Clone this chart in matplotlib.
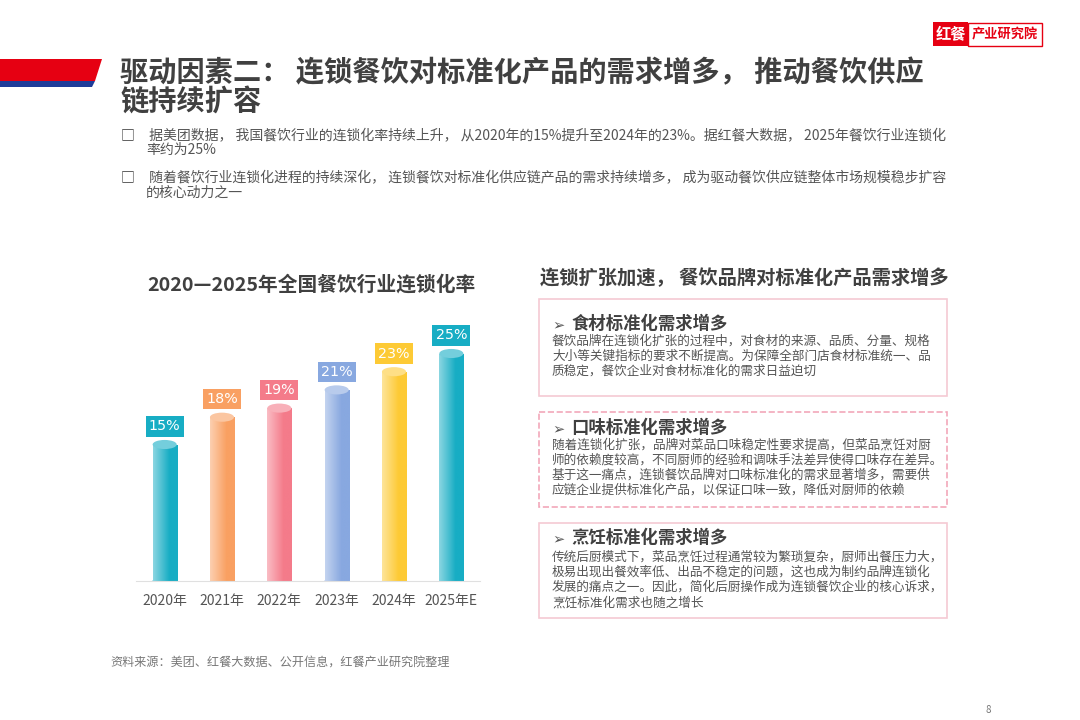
import numpy as np
import matplotlib.pyplot as plt
from matplotlib.patches import Rectangle, Polygon, Ellipse
from matplotlib.colors import to_rgb

plt.rcParams['font.family'] = ['Noto Sans CJK SC', 'DejaVu Sans']

# 数据
years = ["2020年", "2021年", "2022年", "2023年", "2024年", "2025年E"]
rates = [15, 18, 19, 21, 23, 25]
bar_colors = ["#17adc4", "#f9a062", "#f47b8a", "#88a8e0", "#fdca35", "#17adc4"]

title = "驱动因素二： 连锁餐饮对标准化产品的需求增多， 推动餐饮供应\n链持续扩容"
bullets = [
    " 据美团数据， 我国餐饮行业的连锁化率持续上升， 从2020年的15%提升至2024年的23%。据红餐大数据， 2025年餐饮行业连锁化\n率约为25%",
    " 随着餐饮行业连锁化进程的持续深化， 连锁餐饮对标准化供应链产品的需求持续增多， 成为驱动餐饮供应链整体市场规模稳步扩容\n的核心动力之一",
]
chart_title = "2020—2025年全国餐饮行业连锁化率"
right_title = "连锁扩张加速， 餐饮品牌对标准化产品需求增多"
box_titles = ["食材标准化需求增多", "口味标准化需求增多", "烹饪标准化需求增多"]
box_texts = [
    ["餐饮品牌在连锁化扩张的过程中，对食材的来源、品质、分量、规格",
     "大小等关键指标的要求不断提高。为保障全部门店食材标准统一、品",
     "质稳定，餐饮企业对食材标准化的需求日益迫切"],
    ["随着连锁化扩张，品牌对菜品口味稳定性要求提高，但菜品烹饪对厨",
     "师的依赖度较高，不同厨师的经验和调味手法差异使得口味存在差异。",
     "基于这一痛点，连锁餐饮品牌对口味标准化的需求显著增多，需要供",
     "应链企业提供标准化产品，以保证口味一致，降低对厨师的依赖"],
    ["传统后厨模式下，菜品烹饪过程通常较为繁琐复杂，厨师出餐压力大，",
     "极易出现出餐效率低、出品不稳定的问题，这也成为制约品牌连锁化",
     "发展的痛点之一。因此，简化后厨操作成为连锁餐饮企业的核心诉求，",
     "烹饪标准化需求也随之增长"],
]
source = "资料来源：美团、红餐大数据、公开信息，红餐产业研究院整理"

fig = plt.figure(figsize=(10.8, 7.2), dpi=100)
fig.patch.set_facecolor("white")

# 背景层，像素坐标
bg = fig.add_axes([0, 0, 1, 1])
bg.set_xlim(0, 1080)
bg.set_ylim(720, 0)
bg.axis("off")

# 左上角色条
bg.add_patch(Polygon([(0, 59), (102, 59), (95, 81), (0, 81)], closed=True, color="#e60012", lw=0))
bg.add_patch(Polygon([(0, 81), (95, 81), (92, 87), (0, 87)], closed=True, color="#1f3c99", lw=0))

# logo
bg.add_patch(Rectangle((933, 22), 35, 24, color="#e60012", lw=0))
bg.add_patch(Rectangle((968, 22.5), 74, 23, fc="white", ec="#e60012", lw=1))
bg.text(950.5, 34.5, "红餐", color="white", fontsize=11, fontweight="bold", ha="center", va="center")
bg.text(1005, 34.5, "产业研究院", color="#e60012", fontsize=9.5, fontweight="bold", ha="center", va="center")

# 标题
bg.text(120, 88, title, color="#404040", fontsize=20.3, fontweight="bold", ha="left", va="center",
        linespacing=1.05)

# 要点
for i, b in enumerate(bullets):
    y0 = 135 + i * 42
    bg.text(128, y0, "□", color="#333", fontsize=10, ha="center", va="center")
    bg.text(146, y0 + 8.5, b, color="#555", fontsize=10, ha="left", va="center", linespacing=0.98)

# 右侧标题
bg.text(540, 278, right_title, color="#404040", fontsize=13.9, fontweight="bold", ha="left", va="center")

# 右侧三个框
boxes = [(299, 396, "-"), (412, 507, "--"), (523, 618, "-")]
title_y = [324, 428, 538]
text_y0 = [341, 445, 557]
for k, (top, bot, ls) in enumerate(boxes):
    ec = "#f5cad3" if ls == "-" else "#f2a8ba"
    bg.add_patch(Rectangle((539, top), 408, bot - top, fc="white", ec=ec, lw=1.2, ls=ls))
    bg.text(558, title_y[k], "➢", color="#555", fontsize=10.5, fontweight="bold", ha="center", va="center")
    bg.text(571, title_y[k], box_titles[k], color="#404040", fontsize=12.5, fontweight="bold",
            ha="left", va="center")
    for j, line in enumerate(box_texts[k]):
        bg.text(552, text_y0[k] + j * 15.2, line, color="#555", fontsize=9.1, ha="left", va="center")

# 图表标题
bg.text(311, 285, chart_title, color="#404040", fontsize=14.2, fontweight="bold", ha="center", va="center")

# 来源与页码
bg.text(110, 663, source, color="#777", fontsize=8.7, ha="left", va="center")
bg.text(988, 710, "8", color="#777", fontsize=7, ha="center", va="center")

# 柱状图
ax = fig.add_axes([136 / 1080, 139 / 720, 344 / 1080, 281 / 720])
ax.set_xlim(-0.5, 5.5)
ax.set_ylim(0, 281 / 9.1)
ax.patch.set_alpha(0)
for s in ["top", "left", "right"]:
    ax.spines[s].set_visible(False)
ax.spines["bottom"].set_color("#e0e0e0")
ax.tick_params(length=0, labelleft=False)
x = np.arange(len(years))
ax.set_xticks(x)
ax.set_xticklabels(years, color="#555", fontsize=10)
ax.tick_params(axis="x", pad=9)

bw = 0.42
cap_h = 1.0
bars = ax.bar(x, rates, width=bw, color="none", lw=0, zorder=2)
for xi, v, c, bar in zip(x, rates, bar_colors, bars):
    base = np.array(to_rgb(c))
    light = base + (1 - base) * 0.5
    t = np.linspace(0, 1, 64)
    w = np.clip(1 - t * 1.5, 0, 1)[:, None]
    grad = (light * w + base * (1 - w))[None, :, :]
    ax.add_patch(Ellipse((xi, 0), bw, cap_h, color=c, lw=0, zorder=2))
    im = ax.imshow(grad, extent=[xi - bw / 2, xi + bw / 2, 0, v], aspect="auto", zorder=2.5,
                   interpolation="bilinear")
    im.set_clip_path(bar)
    ax.add_patch(Ellipse((xi, v), bw, cap_h, fc=base + (1 - base) * 0.4, lw=0, zorder=3))
    ax.annotate(f"{v}%", (xi, v), xytext=(0, 8), textcoords="offset points", ha="center",
                va="bottom", color="white", fontsize=10.3, family="DejaVu Sans",
                bbox=dict(boxstyle="square,pad=0.22", fc=c, ec="none"), zorder=4)

fig.savefig("out.png", dpi=100)
